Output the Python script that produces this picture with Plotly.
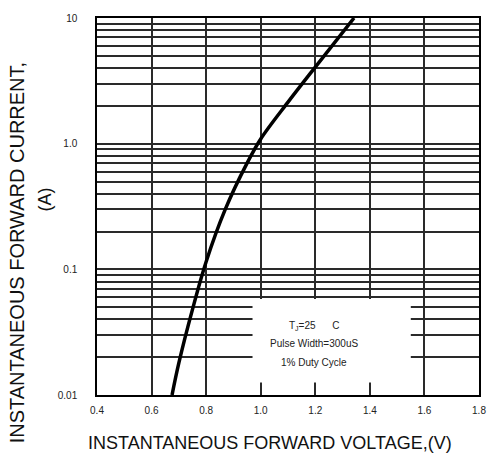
import plotly.graph_objects as go

# Forward characteristic curve
voltage = [0.675, 0.700, 0.750, 0.800, 0.870, 0.950, 1.000, 1.100, 1.200, 1.342]
current = [0.010, 0.018, 0.048, 0.115, 0.300, 0.700, 1.090, 2.140, 4.070, 10.00]

x_ticks = [0.4, 0.6, 0.8, 1.0, 1.2, 1.4, 1.6, 1.8]
x_ticktext = ["0.4", "0.6", "0.8", "1.0", "1.2", "1.4", "1.6", "1.8"]
y_ticks = [0.01, 0.1, 1.0, 10.0]
y_ticktext = ["0.01", "0.1", "1.0", "10"]
y_minor = [k * 10.0 ** e for e in (-2, -1, 0) for k in range(2, 10)]

note_lines = ["T<sub>J</sub>=25\u00a0\u00a0\u00a0\u00a0\u00a0\u00a0C", "Pulse Width=300uS", "1% Duty Cycle"]
x_title = "INSTANTANEOUS FORWARD VOLTAGE,(V)"
y_title1 = "INSTANTANEOUS FORWARD CURRENT,"
y_title2 = "(A)"

FONT = "Liberation Sans, Arial, sans-serif"
GRID = "#2a2a2a"

fig = go.Figure()
fig.add_trace(go.Scatter(x=voltage, y=current, mode="lines",
                         line=dict(color="black", width=3.5, shape="spline", smoothing=1.0),
                         showlegend=False, hoverinfo="skip"))

fig.update_layout(
    width=498, height=457,
    margin=dict(l=97, r=12, t=13, b=62),
    paper_bgcolor="white", plot_bgcolor="white",
    font=dict(family=FONT, color="#111", size=10),
    showlegend=False,
)

fig.update_xaxes(
    range=[0.4, 1.8], tickvals=x_ticks, ticktext=x_ticktext,
    showgrid=True, gridcolor=GRID, gridwidth=1.5,
    ticks="inside", ticklen=12, tickwidth=1.5, tickcolor=GRID,
    showline=True, linecolor="black", linewidth=1.5, mirror=True,
    zeroline=False, ticklabelstandoff=5,
    tickfont=dict(size=10, color="#222"),
)
fig.update_yaxes(
    type="log", range=[-2, 1], tickvals=y_ticks, ticktext=y_ticktext,
    showgrid=True, gridcolor=GRID, gridwidth=1.5,
    minor=dict(tickvals=y_minor, showgrid=True, gridcolor=GRID, gridwidth=1.5),
    ticks="", showline=True, linecolor="black", linewidth=1.5, mirror=True,
    zeroline=False, ticklabelstandoff=16,
    tickfont=dict(size=10, color="#222"),
)

# white note box covering the grid
fig.add_shape(type="rect", xref="x", yref="y", x0=0.97, x1=1.55, y0=0.0126, y1=0.058,
              fillcolor="white", line=dict(width=0), layer="above")

for txt, py in zip(note_lines, [325, 343, 362]):
    fig.add_annotation(text=txt, xref="paper", yref="paper",
                       x=(318 - 97) / 389, y=1 - (py - 13) / 382,
                       showarrow=False, font=dict(size=10, color="#222", family=FONT),
                       xanchor="center", yanchor="middle")

fig.add_annotation(text=x_title, xref="paper", yref="paper",
                   x=(273 - 97) / 389, y=1 - (444 - 13) / 382,
                   showarrow=False, font=dict(size=18, color="#111", family=FONT),
                   xanchor="center", yanchor="middle")
fig.add_annotation(text=y_title1, xref="paper", yref="paper",
                   x=(15 - 97) / 389, y=1 - (250 - 13) / 382, textangle=-90,
                   showarrow=False, font=dict(size=20, color="#111", family=FONT),
                   xanchor="center", yanchor="middle")
fig.add_annotation(text=y_title2, xref="paper", yref="paper",
                   x=(44 - 97) / 389, y=1 - (197 - 13) / 382, textangle=-90,
                   showarrow=False, font=dict(size=18, color="#111", family=FONT),
                   xanchor="center", yanchor="middle")

fig.write_html("out.html")
